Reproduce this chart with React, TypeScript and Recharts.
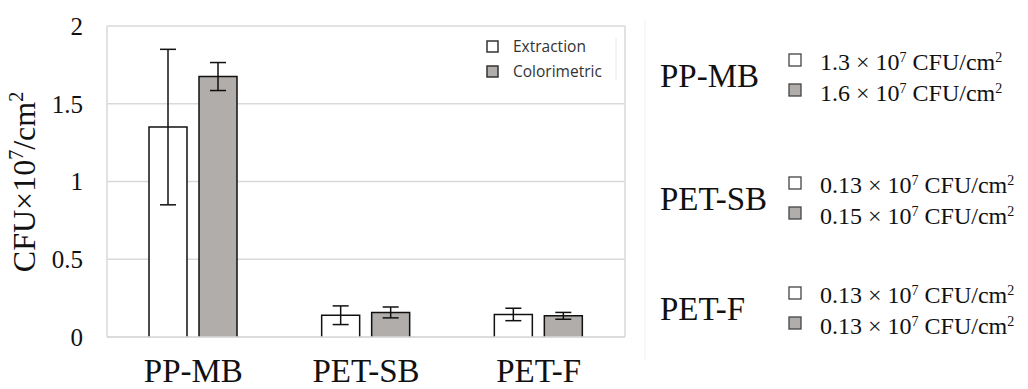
import React from "react";
import {
  BarChart,
  Bar,
  XAxis,
  YAxis,
  CartesianGrid,
  ErrorBar,
} from "recharts";

const categories = ["PP-MB", "PET-SB", "PET-F"];
const extraction = [1.35, 0.14, 0.145];
const extractionErr = [0.5, 0.06, 0.04];
const colorimetric = [1.675, 0.158, 0.136];
const colorimetricErr = [0.09, 0.035, 0.022];
const yTicks = [0, 0.5, 1, 1.5, 2];
const seriesNames = ["Extraction", "Colorimetric"];

// summary text on the right
const extractionText = ["1.3", "0.13", "0.13"];
const colorimetricText = ["1.6", "0.15", "0.13"];

const data = categories.map((name, i) => ({
  name,
  extraction: extraction[i],
  extractionErr: extractionErr[i],
  colorimetric: colorimetric[i],
  colorimetricErr: colorimetricErr[i],
}));

const SERIF = "'Liberation Serif', 'Times New Roman', serif";
const GRAY = "#b1adab";
const GRID = "#d9d9d9";

// bar outline without the bottom edge, like the original
const OpenBar = (props: any) => {
  const { x, y, width, height, fill } = props;
  if (height <= 0) return null;
  return (
    <g>
      <rect x={x} y={y} width={width} height={height} fill={fill} />
      <path
        d={`M${x},${y + height} L${x},${y} L${x + width},${y} L${x + width},${y + height}`}
        fill="none"
        stroke="#111"
        strokeWidth={1.5}
      />
    </g>
  );
};

const InnerLegend = () => (
  <g transform="translate(487,38)">
    <rect x={0} y={3} width={11} height={11} fill="#fff" stroke="#333" strokeWidth={1.5} />
    <text x={26} y={14} fontFamily="'Open Sans', sans-serif" fontSize={15.5} fill="#333">
      {seriesNames[0]}
    </text>
    <rect x={0} y={28} width={11} height={11} fill={GRAY} stroke="#333" strokeWidth={1.5} />
    <text x={26} y={39} fontFamily="'Open Sans', sans-serif" fontSize={15.5} fill="#333">
      {seriesNames[1]}
    </text>
    <line x1={129} y1={0} x2={129} y2={42} stroke="#e8e8e8" />
  </g>
);

const groupBase = [70, 193, 303];

const ValueLine = ({ x, y, value }: { x: number; y: number; value: string }) => (
  <text x={x} y={y} fontFamily={SERIF} fontSize={24} fill="#111">
    {value} × 10
    <tspan dy={-8} fontSize={14}>7</tspan>
    <tspan dy={8}> CFU/cm</tspan>
    <tspan dy={-8} fontSize={14}>2</tspan>
  </text>
);

const Overlay = () => (
  <svg
    width={1028}
    height={389}
    style={{ position: "absolute", left: 0, top: 0, pointerEvents: "none" }}
  >
    <InnerLegend />
    <line x1={645} y1={20} x2={645} y2={360} stroke="#f0f0f0" />
    {categories.map((c, i) => {
      const b = groupBase[i];
      return (
        <g key={c}>
          <text x={660} y={b + 17} fontFamily={SERIF} fontSize={33} fill="#111">
            {c}
          </text>
          <rect x={789} y={b - 16} width={12} height={12} fill="#fff" stroke="#444" strokeWidth={1.3} />
          <ValueLine x={820} y={b} value={extractionText[i]} />
          <rect x={789} y={b + 14} width={12} height={12} fill={GRAY} stroke="#444" strokeWidth={1.3} />
          <ValueLine x={820} y={b + 31} value={colorimetricText[i]} />
        </g>
      );
    })}
  </svg>
);

const YLabel = () => (
  <text
    transform="translate(35,182) rotate(-90)"
    textAnchor="middle"
    fontFamily={SERIF}
    fontSize={32}
    fill="#111"
  >
    CFU×10
    <tspan dy={-12} fontSize={20}>7</tspan>
    <tspan dy={12}>/cm</tspan>
    <tspan dy={-12} fontSize={20}>2</tspan>
  </text>
);

export default function App() {
  return (
    <div
      style={{
        position: "absolute",
        left: 0,
        top: 0,
        width: 1028,
        height: 389,
        background: "#fff",
      }}
    >
      <BarChart
        width={640}
        height={389}
        data={data}
        margin={{ top: 26, right: 15, left: 0, bottom: 0 }}
        barSize={38}
        barGap={12}
      >
        <CartesianGrid
          vertical={true}
          verticalPoints={[107, 625]}
          stroke={GRID}
          strokeWidth={1.5}
        />
        <XAxis
          dataKey="name"
          height={52}
          axisLine={{ stroke: GRID, strokeWidth: 1.5 }}
          tickLine={false}
          tickMargin={16}
          tick={{ fontFamily: SERIF, fontSize: 33, fill: "#111" }}
        />
        <YAxis
          width={107}
          domain={[0, 2]}
          ticks={yTicks}
          axisLine={false}
          tickLine={false}
          tickMargin={18}
          tick={{ fontFamily: SERIF, fontSize: 25, fill: "#111" }}
          label={{ content: () => <YLabel /> }}
        />
        <Bar
          dataKey="extraction"
          name={seriesNames[0]}
          fill="#fff"
          shape={OpenBar}
          isAnimationActive={false}
        >
          <ErrorBar dataKey="extractionErr" width={8} stroke="#111" strokeWidth={1.5} />
        </Bar>
        <Bar
          dataKey="colorimetric"
          name={seriesNames[1]}
          fill={GRAY}
          shape={OpenBar}
          isAnimationActive={false}
        >
          <ErrorBar dataKey="colorimetricErr" width={8} stroke="#111" strokeWidth={1.5} />
        </Bar>
      </BarChart>
      <Overlay />
    </div>
  );
}
